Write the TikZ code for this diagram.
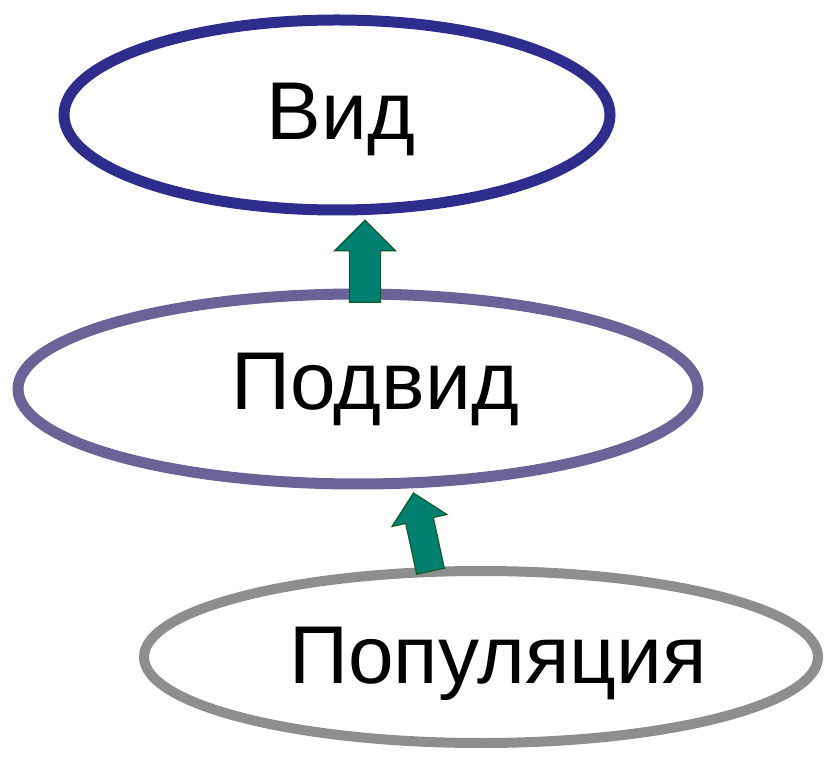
\documentclass[tikz,border=0pt]{standalone}
\usepackage{fontspec}
\setmainfont{Liberation Sans}
\usetikzlibrary{shapes.geometric,shapes.arrows}

\definecolor{vidblue}{RGB}{46,44,140}
\definecolor{podlila}{RGB}{106,99,152}
\definecolor{popgray}{RGB}{142,142,142}
\definecolor{arrteal}{RGB}{0,128,112}
\definecolor{arredge}{RGB}{12,92,40}

\begin{document}
\begin{tikzpicture}[x=1pt, y=1pt,
  level/.style={ellipse, inner sep=0pt, line width=11pt},
  lbl/.style={anchor=base, inner sep=0pt, font=\fontsize{82}{90}\selectfont},
  uparrow/.style={single arrow, draw=arredge, fill=arrteal, line width=1.2pt,
    single arrow head extend=15pt, single arrow head indent=0pt,
    inner xsep=0pt, inner ysep=15pt, allow upside down}]

\useasboundingbox (0,0) rectangle (827,761);

% Ellipses
\node[level, draw=vidblue, minimum width=546pt, minimum height=190pt] (vid) at (337,646) {};
\node[level, draw=podlila, minimum width=680pt, minimum height=190pt] (podvid) at (358,372) {};
\node[level, draw=popgray, minimum width=674pt, minimum height=172pt, line width=10pt] (pop) at (481,104) {};

% Labels
\node[lbl] (vidtext) at (341,621) {Вид};
\node[lbl] (podvidtext) at (375,351) {Подвид};
\node[lbl] (poptext) at (498,78) {Популяция};

% Arrows
\coordinate (tail1) at (365,451);
\coordinate (tip1) at (365,533);
\coordinate (tail2) at (432,183);
\coordinate (tip2) at (415,261);
\path (tail1) -- (tip1) node[midway, sloped, uparrow, minimum height=82pt] (up1) {};
\path (tail2) -- (tip2) node[midway, sloped, uparrow, minimum height=80pt, inner ysep=13.5pt, single arrow head extend=14pt] (up2) {};

\end{tikzpicture}
\end{document}
